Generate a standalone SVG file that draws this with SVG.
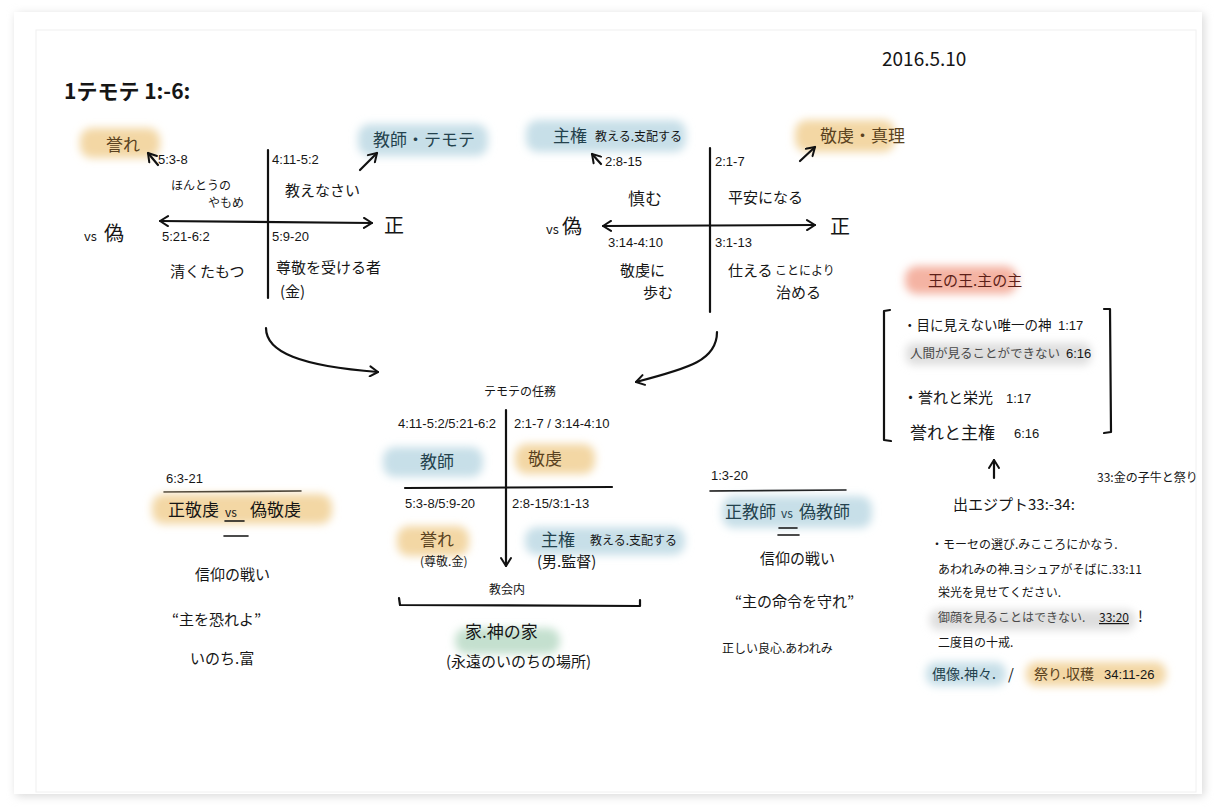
<svg xmlns="http://www.w3.org/2000/svg" width="1220" height="812" viewBox="0 0 1220 812">
  <defs>
    <filter id="soft" x="-20%" y="-50%" width="140%" height="200%">
      <feGaussianBlur stdDeviation="4"/>
    </filter>
    <filter id="shadow" x="-5%" y="-5%" width="110%" height="110%">
      <feGaussianBlur stdDeviation="5"/>
    </filter>
    <marker id="ah" viewBox="0 0 12 12" refX="10" refY="6" markerWidth="12" markerHeight="12" markerUnits="userSpaceOnUse" orient="auto-start-reverse">
      <path d="M2,1 L10,6 L2,11" fill="none" stroke="#111" stroke-width="2" stroke-linecap="round" stroke-linejoin="round"/>
    </marker>
  </defs>
  <style>
    text { font-family: "Noto Sans CJK JP", "Noto Sans", sans-serif; fill: #161616; }
    .t { font-size: 15px; }
    .s { font-size: 12px; }
    .m { font-size: 17px; }
    .l { font-size: 20px; }
    .ref { font-family: "Liberation Sans", "Noto Sans", sans-serif; font-size: 13px; }
    .ln { fill: none; stroke: #111; stroke-width: 2.2; stroke-linecap: round; stroke-linejoin: round; }
    .thin { fill: none; stroke: #111; stroke-width: 1.6; stroke-linecap: round; }
    .hl-o { fill: #f3d7a4; filter: url(#soft); }
    .hl-b { fill: #c7dfe8; filter: url(#soft); }
    .hl-r { fill: #f4b3a3; filter: url(#soft); }
    .hl-g { fill: #c4e0cf; filter: url(#soft); }
    .hl-k { fill: #dedede; filter: url(#soft); }
    .brown { fill: #5a4220; }
    .teal { fill: #24424d; }
    .red { fill: #5c1f18; }
    .grey { fill: #4a4a4a; }
  </style>

  <!-- page -->
  <rect x="0" y="0" width="1220" height="812" fill="#ffffff"/>
  <rect x="16" y="14" width="1188" height="782" fill="#d8d8d8" filter="url(#shadow)"/>
  <rect x="14" y="12" width="1188" height="782" fill="#ffffff"/>
  <rect x="36" y="30" width="1160" height="762" fill="none" stroke="#f0f0f0" stroke-width="1"/>

  <!-- header -->
  <g id="title">
    <text x="64" y="99" font-size="21" font-weight="bold">1テモテ 1:-6:</text>
  </g>
  <g id="date">
    <text x="882" y="66" font-family="Liberation Sans, sans-serif" font-size="19">2016.5.10</text>
  </g>

  <!-- quadrant 1: teachers -->
  <g id="q1">
    <rect class="hl-o" x="80" y="128" width="80" height="30" rx="12"/>
    <text class="m brown" x="106" y="151">誉れ</text>
    <text class="ref" x="158" y="164">5:3-8</text>
    <rect class="hl-b" x="358" y="124" width="130" height="32" rx="12"/>
    <text class="m teal" x="373" y="146">教師・テモテ</text>
    <text class="ref" x="272" y="164">4:11-5:2</text>
    <text class="s" x="171" y="190">ほんとうの</text>
    <text class="s" x="208" y="207">やもめ</text>
    <text class="t" x="285" y="196">教えなさい</text>
    <text x="84" y="241" font-size="13">vs</text>
    <text class="l" x="104" y="241">偽</text>
    <text class="l" x="384" y="233">正</text>
    <text class="ref" x="162" y="241">5:21-6:2</text>
    <text class="ref" x="272" y="241">5:9-20</text>
    <text class="t" x="170" y="277">清くたもつ</text>
    <text class="t" x="276" y="273">尊敬を受ける者</text>
    <text class="t" x="280" y="297">(金)</text>
  </g>

  <!-- quadrant 2: godliness -->
  <g id="q2">
    <rect class="hl-b" x="526" y="120" width="160" height="32" rx="12"/>
    <text class="m teal" x="553" y="142">主権</text>
    <text class="s" x="595" y="141">教える.支配する</text>
    <text class="ref" x="605" y="166">2:8-15</text>
    <rect class="hl-o" x="795" y="120" width="100" height="32" rx="12"/>
    <text class="m brown" x="820" y="142">敬虔・真理</text>
    <text class="ref" x="715" y="166">2:1-7</text>
    <text class="m" x="628" y="205">慎む</text>
    <text class="t" x="728" y="203">平安になる</text>
    <text x="546" y="234" font-size="13">vs</text>
    <text class="l" x="562" y="234">偽</text>
    <text class="l" x="830" y="234">正</text>
    <text class="ref" x="608" y="247">3:14-4:10</text>
    <text class="ref" x="715" y="247">3:1-13</text>
    <text class="t" x="620" y="276">敬虔に</text>
    <text class="t" x="643" y="298">歩む</text>
    <text class="t" x="728" y="276">仕える</text>
    <text class="s" x="775" y="275">ことにより</text>
    <text class="t" x="776" y="298">治める</text>
  </g>

  <!-- Timothy's task -->
  <g id="task">
    <text class="s" x="484" y="396">テモテの任務</text>
    <text class="ref" x="398" y="428" font-size="12.5">4:11-5:2/5:21-6:2</text>
    <text class="ref" x="514" y="428" font-size="12.5">2:1-7 / 3:14-4:10</text>
    <rect class="hl-b" x="383" y="447" width="100" height="30" rx="12"/>
    <text class="m teal" x="420" y="468">教師</text>
    <rect class="hl-o" x="515" y="444" width="80" height="30" rx="12"/>
    <text class="m brown" x="528" y="465">敬虔</text>
    <text class="ref" x="405" y="508" font-size="12.5">5:3-8/5:9-20</text>
    <text class="ref" x="512" y="508" font-size="12.5">2:8-15/3:1-13</text>
    <rect class="hl-o" x="397" y="526" width="72" height="30" rx="12"/>
    <text class="m brown" x="420" y="546">誉れ</text>
    <text class="s" x="420" y="566">(尊敬.金)</text>
    <rect class="hl-b" x="525" y="527" width="160" height="28" rx="12"/>
    <text class="m teal" x="541" y="546">主権</text>
    <text class="s" x="590" y="545">教える.支配する</text>
    <text class="t" x="537" y="567">(男.監督)</text>
    <text class="s" x="489" y="594">教会内</text>
    <rect class="hl-g" x="455" y="628" width="105" height="26" rx="12"/>
    <text class="m" x="465" y="638" fill="#21433a">家.神の家</text>
    <text class="t" x="446" y="667">(永遠のいのちの場所)</text>
  </g>

  <!-- 1 Timothy 6:3-21 -->
  <g id="godliness">
    <text class="ref" x="166" y="483" font-size="12">6:3-21</text>
    <line class="thin" x1="164" y1="492" x2="301" y2="491"/>
    <rect class="hl-o" x="152" y="494" width="180" height="30" rx="12"/>
    <text class="m" x="168" y="516">正敬虔</text>
    <text class="s" x="225" y="517">vs</text>
    <text class="m" x="250" y="516">偽敬虔</text>
    <line class="thin" x1="225" y1="521" x2="244" y2="521"/>
    <line class="thin" x1="224" y1="536" x2="248" y2="536"/>
    <text class="t" x="195" y="580">信仰の戦い</text>
    <text class="t" x="172" y="625">“主を恐れよ”</text>
    <text class="t" x="190" y="664">いのち.富</text>
  </g>

  <!-- 1 Timothy 1:3-20 -->
  <g id="teachers">
    <text class="ref" x="711" y="480" font-size="12">1:3-20</text>
    <line class="thin" x1="710" y1="491" x2="846" y2="490"/>
    <rect class="hl-b" x="722" y="496" width="150" height="32" rx="12"/>
    <text class="m teal" x="725" y="518">正教師</text>
    <text class="s teal" x="781" y="518">vs</text>
    <text class="m teal" x="799" y="518">偽教師</text>
    <line class="thin" x1="779" y1="528" x2="797" y2="528"/>
    <line class="thin" x1="778" y1="535" x2="799" y2="535"/>
    <text class="t" x="760" y="564">信仰の戦い</text>
    <text class="t" x="735" y="607">“主の命令を守れ”</text>
    <text class="s" x="722" y="653">正しい良心.あわれみ</text>
  </g>

  <!-- King of kings -->
  <g id="king">
    <rect class="hl-r" x="905" y="266" width="112" height="28" rx="12"/>
    <text class="t red" x="928" y="286">王の王.主の主</text>
    <text x="903" y="330" font-size="13.5">・目に見えない唯一の神</text>
    <text class="ref" x="1058" y="330">1:17</text>
    <rect class="hl-k" x="906" y="343" width="185" height="22" rx="8"/>
    <text class="grey" x="910" y="358" font-size="12.5">人間が見ることができない</text>
    <text class="ref" x="1066" y="358">6:16</text>
    <text class="t" x="903" y="403">・誉れと栄光</text>
    <text class="ref" x="1006" y="403">1:17</text>
    <text class="m" x="910" y="439">誉れと主権</text>
    <text class="ref" x="1014" y="438">6:16</text>
  </g>

  <!-- Exodus 33-34 -->
  <g id="exodus">
    <text class="s" x="1097" y="482">33:金の子牛と祭り</text>
    <text class="t" x="953" y="510">出エジプト33:-34:</text>
    <text class="s" x="931" y="549">・モーセの選び.みこころにかなう.</text>
    <text class="s" x="938" y="574">あわれみの神.ヨシュアがそばに.33:11</text>
    <text class="s" x="938" y="597">栄光を見せてください.</text>
    <rect class="hl-k" x="930" y="610" width="205" height="20" rx="8"/>
    <text class="s grey" x="938" y="622">御顔を見ることはできない.</text>
    <text class="s" x="1099" y="622" text-decoration="underline">33:20</text>
    <text class="t" x="1138" y="622">!</text>
    <text class="s" x="938" y="647">二度目の十戒.</text>
    <rect class="hl-b" x="926" y="662" width="80" height="24" rx="10"/>
    <rect class="hl-o" x="1026" y="662" width="140" height="24" rx="10"/>
    <text class="teal" x="932" y="679" font-size="14">偶像.神々.</text>
    <text class="t" x="1008" y="680">/</text>
    <text class="brown" x="1034" y="679" font-size="14">祭り.収穫</text>
    <text class="ref" x="1104" y="679" font-size="12">34:11-26</text>
  </g>

  <!-- connectors, axes and brackets -->
  <g id="connectors">
    <!-- quadrant 1 axes -->
    <line class="ln" x1="268" y1="150" x2="268" y2="298"/>
    <path class="ln" d="M160,221 L372,223" marker-start="url(#ah)" marker-end="url(#ah)"/>
    <path class="ln" d="M158,165 L148,153" marker-end="url(#ah)"/>
    <path class="ln" d="M360,170 L377,153" marker-end="url(#ah)"/>
    <!-- quadrant 2 axes -->
    <line class="ln" x1="710" y1="148" x2="710" y2="312"/>
    <path class="ln" d="M603,226 L815,225" marker-start="url(#ah)" marker-end="url(#ah)"/>
    <path class="ln" d="M601,164 L592,154" marker-end="url(#ah)"/>
    <path class="ln" d="M800,161 L815,147" marker-end="url(#ah)"/>
    <!-- flows into the task chart -->
    <path class="ln" d="M266,328 C266,352 300,366 378,372" marker-end="url(#ah)"/>
    <path class="ln" d="M717,332 C717,360 690,368 636,382" marker-end="url(#ah)"/>
    <!-- task chart axes -->
    <path class="ln" d="M506,410 L506,566" marker-end="url(#ah)"/>
    <line class="ln" x1="405" y1="488" x2="612" y2="487"/>
    <path class="ln" d="M399,598 L400,605 L640,606 L640,600"/>
    <!-- brackets -->
    <path class="ln" d="M890,310 L884,311 L884,440 L891,441"/>
    <path class="ln" d="M1104,309 L1110,309 L1111,432 L1104,433"/>
    <path class="ln" d="M994,478 L994,460" marker-end="url(#ah)"/>
  </g>
</svg>
